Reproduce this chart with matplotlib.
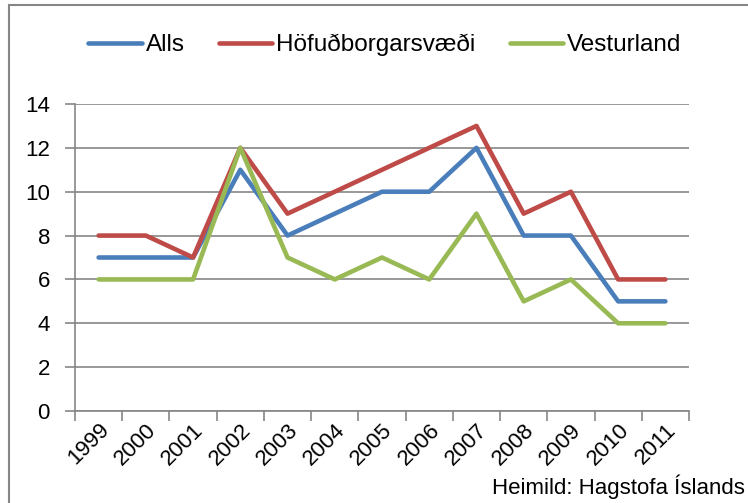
import matplotlib
matplotlib.use("Agg")
import matplotlib.pyplot as plt
import numpy as np
from matplotlib.patches import Rectangle

years = ["1999", "2000", "2001", "2002", "2003", "2004", "2005",
         "2006", "2007", "2008", "2009", "2010", "2011"]
alls = [7, 7, 7, 11, 8, 9, 10, 10, 12, 8, 8, 5, 5]
hofudborgarsvaedi = [8, 8, 7, 12, 9, 10, 11, 12, 13, 9, 10, 6, 6]
vesturland = [6, 6, 6, 12, 7, 6, 7, 6, 9, 5, 6, 4, 4]

series = [
    ("Alls", alls, "#4A7EBB"),
    ("Höfuðborgarsvæði", hofudborgarsvaedi, "#BE4B48"),
    ("Vesturland", vesturland, "#98B954"),
]

plt.rcParams["font.family"] = ["Liberation Sans", "DejaVu Sans"]
grey = "#868686"
size = 16
legend_size = 17.5

fig = plt.figure(figsize=(7.48, 5.03), dpi=100)
ax = fig.add_axes([75 / 748, 1 - 411 / 503, 614 / 748, 307 / 503])

x = np.arange(len(years))
for name, vals, colour in series:
    ax.plot(x, vals, color=colour, linewidth=3.3, label=name,
            solid_capstyle="round", solid_joinstyle="round")

ax.set_xlim(-0.5, len(years) - 0.5)
ax.set_ylim(0, 14)
ax.set_yticks(range(0, 15, 2))
# category boundaries carry the tick marks, centres carry the labels
ax.set_xticks(np.arange(-0.5, len(years)))
ax.set_xticklabels([])
ax.set_xticks(x, minor=True)
ax.set_xticklabels(years, minor=True, rotation=45, ha="right", va="top",
                   rotation_mode="anchor", fontsize=size)
ax.tick_params(axis="x", which="minor", length=0, pad=6)
ax.tick_params(axis="x", which="major", length=7, width=1.2, color=grey,
               direction="out")
ax.tick_params(axis="y", length=7, width=1.2, color=grey, direction="out",
               labelsize=size, pad=11)

ax.grid(axis="y", color=grey, linewidth=1.2)
ax.set_axisbelow(True)
for side in ["top", "right"]:
    ax.spines[side].set_visible(False)
for side in ["left", "bottom"]:
    ax.spines[side].set_color(grey)
    ax.spines[side].set_linewidth(1.2)

fig.legend(loc="center", bbox_to_anchor=(385 / 748, 1 - 45 / 503), ncol=3,
           frameon=False, fontsize=legend_size, handlelength=2.2,
           handletextpad=0.17, columnspacing=1.4)

fig.text(745 / 748, 1 - 487 / 503, "Heimild: Hagstofa Íslands",
         ha="right", va="center", fontsize=size)

# outer chart frame
fig.patches.append(Rectangle((9 / 748, -0.2), 1.2, 1.2 - 5 / 503,
                             transform=fig.transFigure, fill=False,
                             edgecolor=grey, linewidth=1.5))

fig.savefig("out.png", dpi=100)
